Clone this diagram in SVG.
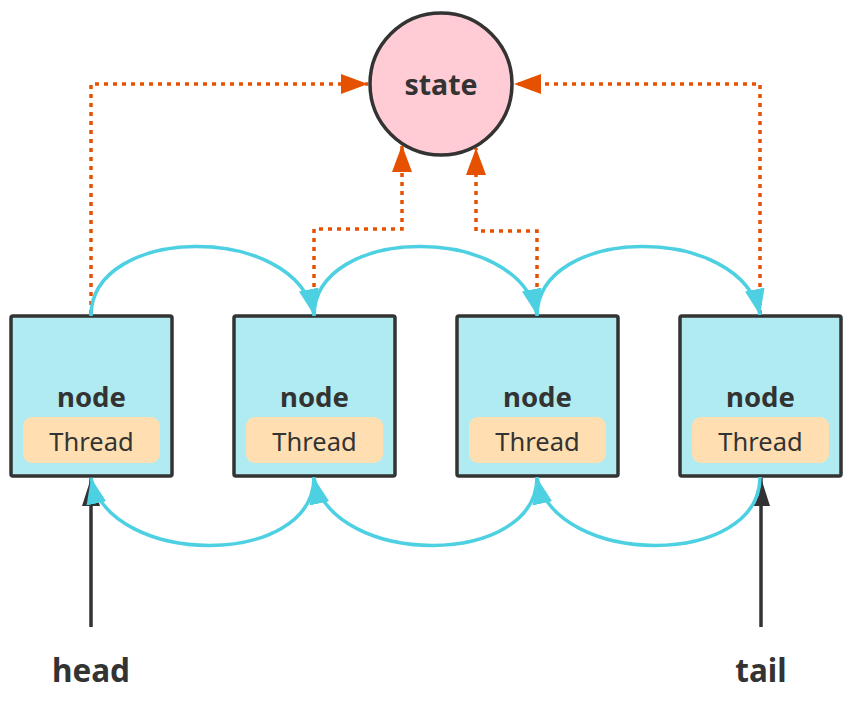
<svg xmlns="http://www.w3.org/2000/svg" width="853" height="714" viewBox="0 0 853 714">
  <style>
    .box { fill: #B1EBF2; stroke: #333333; stroke-width: 3.5; }
    .pill { fill: #FFDFB2; }
    .lbl { font-family: "Noto Sans", "Open Sans", sans-serif; fill: #333333; text-anchor: middle; }
    .bold { font-weight: bold; }
    .name { font-size: 27.5px; font-weight: bold; }
    .thr { font-size: 25.5px; }
    .dot { fill: none; stroke: #E65100; stroke-width: 3.5; stroke-dasharray: 4 5; }
    .link { fill: none; stroke: #4DD0E1; stroke-width: 3.5; }
    .ptr { fill: none; stroke: #333333; stroke-width: 3.5; }
  </style>
  <defs>
    <marker id="arrOrange" markerUnits="userSpaceOnUse" markerWidth="28" markerHeight="20" refX="27" refY="10" orient="auto">
      <path d="M0,0 L27,10 L0,20 Z" fill="#E65100"/>
    </marker>
    <marker id="arrCyan" markerUnits="userSpaceOnUse" markerWidth="27" markerHeight="22" refX="26" refY="11" orient="auto">
      <path d="M0,1 L26,11 L0,21 Z" fill="#4DD0E1"/>
    </marker>
    <marker id="arrDark" markerUnits="userSpaceOnUse" markerWidth="30" markerHeight="20" refX="28" refY="10" orient="auto">
      <path d="M0,1 L28,10 L0,19 Z" fill="#333333"/>
    </marker>
  </defs>

  <!-- state circle -->
  <g id="state">
    <circle cx="441" cy="84" r="71" fill="#FFCCD5" stroke="#333333" stroke-width="3.5"/>
    <text class="lbl bold" x="441" y="95" font-size="28.5">state</text>
  </g>

  <!-- queue nodes -->
  <g id="node1">
    <rect class="box" x="11" y="316" width="161" height="160" rx="2"/>
    <text class="lbl name" x="91.5" y="407">node</text>
    <rect class="pill" x="23" y="417" width="137" height="46" rx="9"/>
    <text class="lbl thr" x="91.5" y="451">Thread</text>
  </g>
  <g id="node2">
    <rect class="box" x="234" y="316" width="161" height="160" rx="2"/>
    <text class="lbl name" x="314.5" y="407">node</text>
    <rect class="pill" x="246" y="417" width="137" height="46" rx="9"/>
    <text class="lbl thr" x="314.5" y="451">Thread</text>
  </g>
  <g id="node3">
    <rect class="box" x="457" y="316" width="161" height="160" rx="2"/>
    <text class="lbl name" x="537.5" y="407">node</text>
    <rect class="pill" x="469" y="417" width="137" height="46" rx="9"/>
    <text class="lbl thr" x="537.5" y="451">Thread</text>
  </g>
  <g id="node4">
    <rect class="box" x="680" y="316" width="161" height="160" rx="2"/>
    <text class="lbl name" x="760.5" y="407">node</text>
    <rect class="pill" x="692" y="417" width="137" height="46" rx="9"/>
    <text class="lbl thr" x="760.5" y="451">Thread</text>
  </g>

  <!-- head / tail labels -->
  <g id="head">
    <text class="lbl bold" x="91" y="682" font-size="31.5">head</text>
  </g>
  <g id="tail">
    <text class="lbl bold" x="761" y="682" font-size="31.5">tail</text>
  </g>

  <g id="connectors">
    <!-- state references -->
    <path class="dot" d="M91,314 V84 H368" marker-end="url(#arrOrange)"/>
    <path class="dot" d="M760,314 V84 H514" marker-end="url(#arrOrange)"/>
    <path class="dot" d="M314,314 V229 H402 V145" marker-end="url(#arrOrange)"/>
    <path class="dot" d="M537,314 V231 H476 V148" marker-end="url(#arrOrange)"/>

    <!-- head / tail pointers -->
    <path class="ptr" d="M91,627 V478" marker-end="url(#arrDark)"/>
    <path class="ptr" d="M761,627 V478" marker-end="url(#arrDark)"/>

    <!-- next links -->
    <path class="link" d="M91,316 C91,225 295,222 314,315" marker-end="url(#arrCyan)"/>
    <path class="link" d="M314,316 C314,225 518,222 537,315" marker-end="url(#arrCyan)"/>
    <path class="link" d="M537,316 C537,225 741,222 760,315" marker-end="url(#arrCyan)"/>

    <!-- prev links -->
    <path class="link" d="M314,477 C314,568 110,568 91,478" marker-end="url(#arrCyan)"/>
    <path class="link" d="M537,477 C537,568 333,568 314,478" marker-end="url(#arrCyan)"/>
    <path class="link" d="M760,477 C760,568 556,568 537,478" marker-end="url(#arrCyan)"/>
  </g>
</svg>
